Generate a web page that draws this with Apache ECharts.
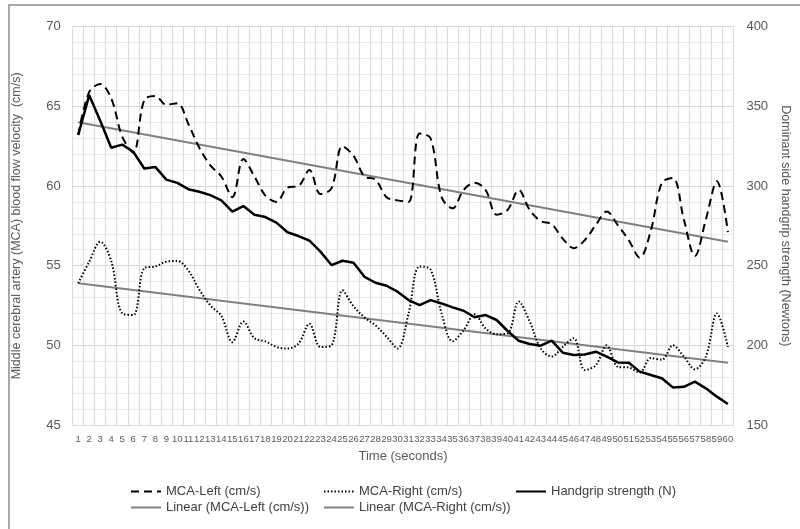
<!DOCTYPE html>
<html>
<head>
<meta charset="utf-8">
<script src="https://cdn.jsdelivr.net/npm/echarts@6/dist/echarts.min.js"></script>
<style>
  html, body { margin: 0; padding: 0; background: #fff; }
  #main { width: 800px; height: 529px; }
</style>
</head>
<body>
<div id="main"></div>
<script>
// time in seconds (x categories)
var seconds = ['1','2','3','4','5','6','7','8','9','10','11','12','13','14','15','16','17','18','19','20',
  '21','22','23','24','25','26','27','28','29','30','31','32','33','34','35','36','37','38','39','40',
  '41','42','43','44','45','46','47','48','49','50','51','52','53','54','55','56','57','58','59','60'];

// MCA-Left velocity (cm/s)
var mcaLeft = [63.2, 65.9, 66.4, 65.5, 63.1, 62.1, 65.4, 65.65, 65.1, 65.2,
  63.9, 62.4, 61.3, 60.6, 59.3, 61.7, 60.6, 59.4, 59.0, 59.9,
  60.0, 61.0, 59.5, 59.85, 62.5, 61.9, 60.6, 60.4, 59.3, 59.1,
  59.0, 63.3, 63.0, 59.3, 58.6, 59.75, 60.2, 59.75, 58.2, 58.5,
  59.75, 58.5, 57.8, 57.6, 56.7, 56.1, 56.6, 57.55, 58.4, 57.55,
  56.6, 55.5, 57.2, 60.2, 60.5, 57.9, 55.6, 57.9, 60.3, 57.1];

// MCA-Right velocity (cm/s)
var mcaRight = [53.9, 55.25, 56.5, 55.3, 52.0, 51.9, 54.85, 54.95, 55.25, 55.3,
  54.7, 53.5, 52.5, 51.85, 50.2, 51.5, 50.45, 50.25, 49.9, 49.8,
  50.1, 51.35, 49.9, 50.0, 53.45, 52.45, 51.75, 51.25, 50.55, 49.8,
  52.0, 54.95, 54.75, 52.0, 50.25, 50.95, 51.95, 51.05, 50.7, 50.75,
  52.75, 51.5, 49.8, 49.3, 49.9, 50.45, 48.45, 48.75, 50.0, 48.65,
  48.6, 48.3, 49.2, 49.1, 50.0, 49.3, 48.5, 49.3, 52.0, 49.9];

// handgrip strength (N), right axis
var handgrip = [332, 357, 341, 324, 326, 321.5, 311, 312, 304, 302,
  298, 296.4, 294.3, 291, 284, 287.4, 282, 280.5, 277, 271,
  268.6, 265.7, 258.8, 250.4, 253.1, 251.9, 243, 239.3, 237.4, 233.7,
  228.4, 225.3, 228.4, 226.3, 223.8, 221.7, 217.6, 219, 215.9, 209,
  202.9, 200.8, 199.8, 202.9, 195.4, 193.9, 194.3, 196, 192.9, 189.3,
  189.1, 183.5, 181.4, 179.3, 173.6, 174, 177.2, 173, 167.8, 163.2];

// linear trendlines, value at first and last second
var trendLeft = [64.0, 56.5];
var trendRight = [53.9, 48.9];

var leftTicks = [45, 70, 5];
var rightTicks = [150, 400, 50];

var FONT = 'Liberation Sans';
var GREY = '#595959';

var myChart = echarts.init(document.getElementById('main'));

function legendAt(name, left, top) {
  return {
    data: [name], left: left, top: top,
    itemWidth: 30, itemHeight: 12, itemGap: 4,
    itemStyle: { opacity: 0 },
    textStyle: { fontFamily: FONT, fontSize: 13, color: '#404040' }
  };
}

var option = {
  backgroundColor: '#fff',
  animation: false,
  textStyle: { fontFamily: FONT },
  graphic: [{
    type: 'rect', shape: { x: 9, y: 5, width: 820, height: 560 },
    style: { fill: 'none', stroke: '#8c8c8c', lineWidth: 1.5 }, silent: true
  }],
  grid: { left: 72.7, right: 56, top: 26.7, bottom: 104 },
  legend: [
    legendAt('MCA-Left (cm/s)', 125, 480),
    legendAt('MCA-Right (cm/s)', 318, 480),
    legendAt('Handgrip strength (N)', 510, 480),
    legendAt('Linear (MCA-Left (cm/s))', 125, 496),
    legendAt('Linear (MCA-Right (cm/s))', 318, 496)
  ],
  xAxis: {
    type: 'category', data: seconds, boundaryGap: true,
    name: 'Time (seconds)', nameLocation: 'middle', nameGap: 25,
    nameTextStyle: { fontSize: 13, color: GREY },
    axisLine: { lineStyle: { color: '#d9d9d9' } },
    axisTick: { show: false },
    axisLabel: { interval: 0, fontSize: 9.5, color: GREY, margin: 9 },
    splitLine: { show: true, interval: 0, lineStyle: { color: '#dcdcdc' } }
  },
  yAxis: [{
    type: 'value', min: leftTicks[0], max: leftTicks[1], interval: leftTicks[2],
    name: 'Middle cerebral artery (MCA) blood flow velocity  (cm/s)',
    nameLocation: 'middle', nameGap: 50,
    nameTextStyle: { fontSize: 12.5, color: GREY },
    axisLine: { show: false }, axisTick: { show: false },
    axisLabel: { fontSize: 13, color: GREY, margin: 12 },
    splitLine: { lineStyle: { color: '#d6d6d6' } },
    minorTick: { show: false, splitNumber: 5 },
    minorSplitLine: { show: true, lineStyle: { color: '#ececec' } }
  }, {
    type: 'value', position: 'right',
    min: rightTicks[0], max: rightTicks[1], interval: rightTicks[2],
    name: 'Dominant side handgrip strength (Newtons)',
    nameLocation: 'middle', nameGap: 34, nameRotate: -90,
    nameTextStyle: { fontSize: 12.5, color: GREY },
    axisLine: { show: false }, axisTick: { show: false },
    axisLabel: { fontSize: 13, color: GREY, margin: 13 },
    splitLine: { show: false }
  }],
  series: [
    {
      name: 'MCA-Left (cm/s)', type: 'line', data: mcaLeft, yAxisIndex: 0,
      smooth: 0.35, symbol: 'none', color: '#000',
      lineStyle: { color: '#000', width: 2, type: [8, 5] }, z: 4
    },
    {
      name: 'MCA-Right (cm/s)', type: 'line', data: mcaRight, yAxisIndex: 0,
      smooth: 0.35, symbol: 'none', color: '#000',
      lineStyle: { color: '#000', width: 2, type: [1.5, 2] }, z: 4
    },
    {
      name: 'Handgrip strength (N)', type: 'line', data: handgrip, yAxisIndex: 1,
      symbol: 'none', color: '#000',
      lineStyle: { color: '#000', width: 2.5 }, z: 5
    },
    {
      name: 'Linear (MCA-Left (cm/s))', type: 'line', yAxisIndex: 0, symbol: 'none',
      color: '#808080',
      data: [[seconds[0], trendLeft[0]], [seconds[59], trendLeft[1]]],
      lineStyle: { color: '#808080', width: 2 }, z: 3
    },
    {
      name: 'Linear (MCA-Right (cm/s))', type: 'line', yAxisIndex: 0, symbol: 'none',
      color: '#808080',
      data: [[seconds[0], trendRight[0]], [seconds[59], trendRight[1]]],
      lineStyle: { color: '#808080', width: 2 }, z: 3
    }
  ]
};

myChart.setOption(option);
</script>
</body>
</html>
